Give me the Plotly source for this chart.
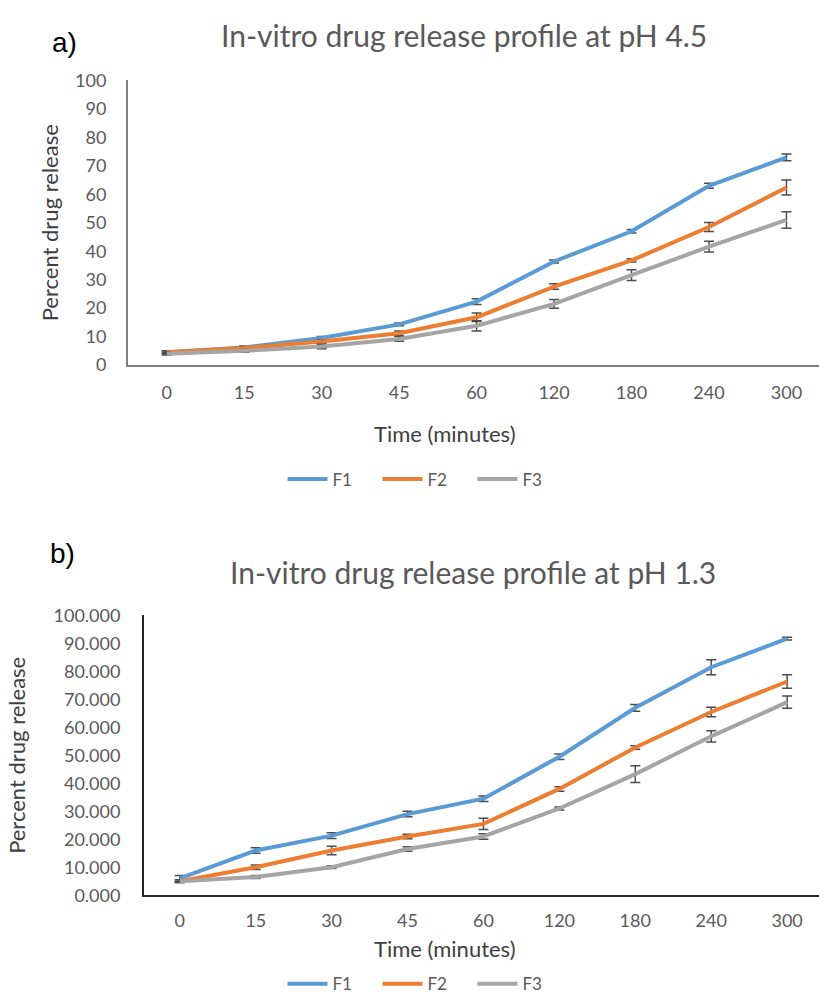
import plotly.graph_objects as go

categories = ["0", "15", "30", "45", "60", "120", "180", "240", "300"]
series_names = ["F1", "F2", "F3"]
colors = ["#5B9BD5", "#ED7D31", "#A5A5A5"]

# pH 4.5
a_f1 = [4.5, 6.2, 9.5, 14.3, 22.3, 36.4, 47.0, 63.0, 73.0]
a_f2 = [4.5, 6.0, 8.3, 11.2, 16.8, 27.6, 36.8, 48.5, 62.4]
a_f3 = [4.0, 5.0, 6.5, 9.2, 13.8, 21.5, 31.6, 41.6, 51.0]
a_f1_err = [0.5, 0.5, 0.5, 0.5, 1.0, 0.5, 0.6, 0.9, 1.2]
a_f2_err = [0.5, 0.5, 0.5, 0.8, 1.5, 1.0, 0.6, 1.6, 2.6]
a_f3_err = [0.5, 0.5, 0.8, 0.8, 1.8, 1.5, 1.9, 1.9, 2.9]

# pH 1.3
b_f1 = [6.0, 16.0, 21.3, 29.0, 34.5, 49.5, 67.0, 81.5, 91.7]
b_f2 = [5.0, 10.0, 16.0, 21.0, 25.5, 38.0, 52.8, 65.5, 76.4]
b_f3 = [5.0, 6.5, 10.0, 16.5, 21.0, 31.0, 43.3, 56.8, 69.0]
b_f1_err = [1.0, 1.0, 1.0, 1.0, 1.0, 1.0, 1.2, 2.7, 0.5]
b_f2_err = [0.5, 0.8, 1.5, 0.8, 2.0, 0.8, 0.6, 1.7, 2.4]
b_f3_err = [0.5, 0.5, 0.5, 0.8, 1.0, 0.5, 3.0, 2.0, 2.2]

y_ticks = [0, 10, 20, 30, 40, 50, 60, 70, 80, 90, 100]

W, H = 819, 1003
FONT = "Lato"
TICK_C = "#595959"
TITLE_C = "#404040"

fig = go.Figure()

a_vals = [a_f1, a_f2, a_f3]
a_errs = [a_f1_err, a_f2_err, a_f3_err]
b_vals = [b_f1, b_f2, b_f3]
b_errs = [b_f1_err, b_f2_err, b_f3_err]

for name, col, v, e in zip(series_names, colors, a_vals, a_errs):
    fig.add_trace(go.Scatter(
        x=categories, y=v, mode="lines", name=name,
        line=dict(color=col, width=4),
        error_y=dict(type="data", array=e, color="#4D4D4D", thickness=1.5, width=5),
        xaxis="x", yaxis="y", legend="legend"))

for name, col, v, e in zip(series_names, colors, b_vals, b_errs):
    fig.add_trace(go.Scatter(
        x=categories, y=v, mode="lines", name=name,
        line=dict(color=col, width=4),
        error_y=dict(type="data", array=e, color="#4D4D4D", thickness=1.5, width=5),
        xaxis="x2", yaxis="y2", legend="legend2"))

def px_x(p):
    return p / W

def px_y(p):
    return 1 - p / H

tickfont = dict(family=FONT, size=18, color=TICK_C)
titlefont = dict(family=FONT, size=22, color=TITLE_C)
legfont = dict(family=FONT, size=17, color=TICK_C)

fig.update_layout(
    width=W, height=H,
    margin=dict(l=0, r=0, t=0, b=0),
    paper_bgcolor="white", plot_bgcolor="white",
    font=dict(family=FONT),
    xaxis=dict(
        domain=[px_x(128), 1.0], anchor="y", type="category",
        range=[-0.5, 8.42], showgrid=False, zeroline=False,
        showline=True, linecolor="#7F7F7F", linewidth=2,
        ticks="", tickfont=tickfont, ticklabelstandoff=10),
    yaxis=dict(
        domain=[px_y(361), px_y(70)], anchor="x",
        range=[0, 100], tickvals=y_ticks, showgrid=False, zeroline=False,
        showline=True, linecolor="#7F7F7F", linewidth=2,
        ticks="", tickfont=tickfont, ticklabelstandoff=16,
        title=dict(text="Percent drug release", font=titlefont, standoff=10)),
    xaxis2=dict(
        domain=[px_x(144), 1.0], anchor="y2", type="category",
        range=[-0.471, 8.42], showgrid=False, zeroline=False,
        showline=True, linecolor="#262626", linewidth=2,
        ticks="", tickfont=tickfont, ticklabelstandoff=8),
    yaxis2=dict(
        domain=[px_y(903), px_y(617)], anchor="x2",
        range=[0, 100], tickvals=y_ticks, tickformat=".3f",
        showgrid=False, zeroline=False,
        showline=True, linecolor="#262626", linewidth=2,
        ticks="", tickfont=tickfont, ticklabelstandoff=18,
        title=dict(text="Percent drug release", font=titlefont, standoff=22)),
    legend=dict(
        orientation="h", x=px_x(425), xanchor="center", y=px_y(478), yanchor="middle",
        font=legfont, itemwidth=40, entrywidth=40, entrywidthmode="pixels",
        bgcolor="rgba(0,0,0,0)"),
    legend2=dict(
        orientation="h", x=px_x(425), xanchor="center", y=px_y(994), yanchor="middle",
        font=legfont, itemwidth=40, entrywidth=40, entrywidthmode="pixels",
        bgcolor="rgba(0,0,0,0)"),
    annotations=[
        dict(text="a)", x=px_x(50), y=px_y(31), xref="paper", yref="paper",
             xanchor="left", yanchor="middle", showarrow=False,
             font=dict(family="Liberation Sans", size=28, color="black")),
        dict(text="In-vitro drug release profile at pH 4.5", x=px_x(464), y=px_y(24),
             xref="paper", yref="paper", xanchor="center", yanchor="middle",
             showarrow=False, font=dict(family=FONT, size=30, color=TICK_C)),
        dict(text="Time (minutes)", x=px_x(445), y=px_y(431), xref="paper", yref="paper",
             xanchor="center", yanchor="middle", showarrow=False, font=titlefont),
        dict(text="b)", x=px_x(48), y=px_y(554), xref="paper", yref="paper",
             xanchor="left", yanchor="middle", showarrow=False,
             font=dict(family="Liberation Sans", size=28, color="black")),
        dict(text="In-vitro drug release profile at pH 1.3", x=px_x(473), y=px_y(573),
             xref="paper", yref="paper", xanchor="center", yanchor="middle",
             showarrow=False, font=dict(family=FONT, size=30, color=TICK_C)),
        dict(text="Time (minutes)", x=px_x(445), y=px_y(957), xref="paper", yref="paper",
             xanchor="center", yanchor="middle", showarrow=False, font=titlefont),
    ],
)

fig.write_html("out.html",
               config={"displayModeBar": False},
               post_script="document.body.style.margin='0';document.body.style.overflow='hidden';")
